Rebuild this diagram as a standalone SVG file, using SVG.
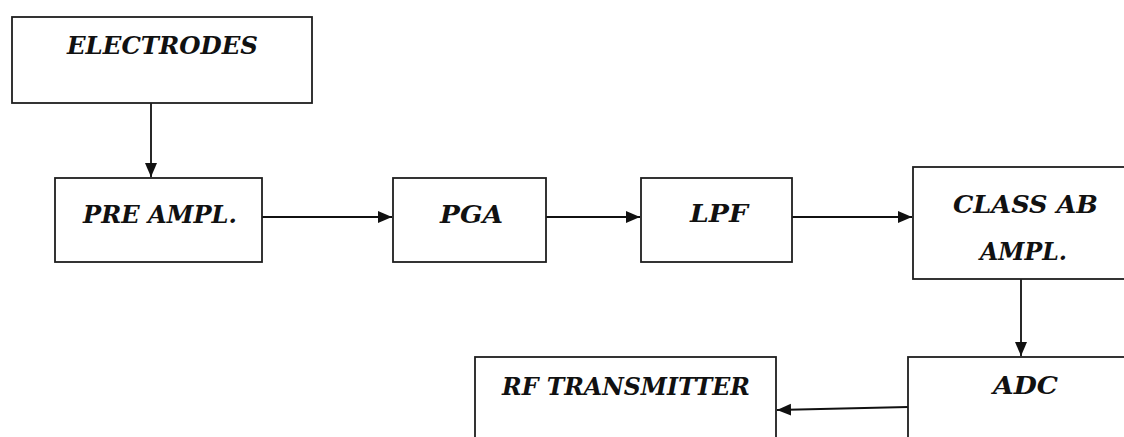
<svg xmlns="http://www.w3.org/2000/svg" width="1124" height="437" viewBox="0 0 1124 437">
  <style>
    .box { fill: #ffffff; stroke: #1e1e1e; stroke-width: 1.8; }
    .lbl { font-family: "DejaVu Serif", "Liberation Serif", serif; font-weight: bold; font-style: italic; font-size: 25px; fill: #111111; }
    .wire { stroke: #111111; stroke-width: 1.8; fill: none; marker-end: url(#head); }
  </style>
  <defs>
    <marker id="head" markerWidth="16" markerHeight="14" refX="14" refY="7" orient="auto" markerUnits="userSpaceOnUse">
      <path d="M0,1 L14,7 L0,13 Z" fill="#111111"/>
    </marker>
  </defs>
  <rect width="1124" height="437" fill="#ffffff"/>

  <g id="connectors">
    <line class="wire" x1="151" y1="103" x2="151" y2="177"/>
    <line class="wire" x1="262" y1="217" x2="392" y2="217"/>
    <line class="wire" x1="546" y1="217" x2="640" y2="217"/>
    <line class="wire" x1="792" y1="217" x2="912" y2="217"/>
    <line class="wire" x1="1021" y1="279" x2="1021" y2="356"/>
    <line class="wire" x1="908" y1="407" x2="777" y2="410"/>
  </g>

  <g id="electrodes">
    <rect class="box" x="12" y="17" width="300" height="86"/>
    <text class="lbl" x="67" y="54" textLength="191" lengthAdjust="spacingAndGlyphs">ELECTRODES</text>
  </g>
  <g id="pre-ampl">
    <rect class="box" x="55" y="178" width="207" height="84"/>
    <text class="lbl" x="83" y="223" textLength="154" lengthAdjust="spacingAndGlyphs">PRE AMPL.</text>
  </g>
  <g id="pga">
    <rect class="box" x="393" y="178" width="153" height="84"/>
    <text class="lbl" x="440" y="223" textLength="63" lengthAdjust="spacingAndGlyphs">PGA</text>
  </g>
  <g id="lpf">
    <rect class="box" x="641" y="178" width="151" height="84"/>
    <text class="lbl" x="690" y="222" textLength="58" lengthAdjust="spacingAndGlyphs">LPF</text>
  </g>
  <g id="class-ab-ampl">
    <rect class="box" x="913" y="167" width="230" height="112"/>
    <text class="lbl" x="953" y="213" textLength="145" lengthAdjust="spacingAndGlyphs">CLASS AB</text>
    <text class="lbl" x="980" y="260" textLength="87" lengthAdjust="spacingAndGlyphs">AMPL.</text>
  </g>
  <g id="adc">
    <rect class="box" x="908" y="357" width="230" height="100"/>
    <text class="lbl" x="993" y="394" textLength="65" lengthAdjust="spacingAndGlyphs">ADC</text>
  </g>
  <g id="rf-transmitter">
    <rect class="box" x="475" y="357" width="301" height="100"/>
    <text class="lbl" x="502" y="395" textLength="248" lengthAdjust="spacingAndGlyphs">RF TRANSMITTER</text>
  </g>
</svg>
